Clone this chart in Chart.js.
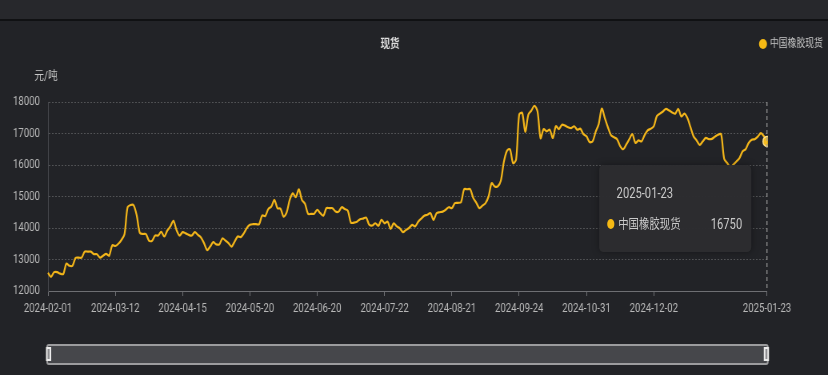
<!DOCTYPE html>
<html>
<head>
<meta charset="utf-8">
<script src="https://cdn.jsdelivr.net/npm/chart.js@4.4.1/dist/chart.umd.min.js"></script>
<style>
  html, body { margin: 0; padding: 0; background: #222327; overflow: hidden; }
  /* the reference is drawn horizontally squeezed, so the whole chart is drawn wider and scaled down */
  #wrap { position: relative; width: 1035px; height: 375px; transform: scaleX(0.8); transform-origin: 0 0; }
  #spot { display: block; }
  #tip { position: absolute; width: 190px; height: 87px; box-sizing: border-box; background: rgba(44,44,47,0.97);
         border-radius: 5px; box-shadow: 0 0 8px rgba(0,0,0,0.35); color: #c9c9c9; opacity: 0;
         font: 14px Roboto, 'Noto Sans CJK SC', sans-serif; pointer-events: none; }
  #tip .t { position: absolute; left: 22px; top: 19px; line-height: 18px; }
  #tip .dot { position: absolute; left: 10px; top: 54px; width: 9px; height: 10px; border-radius: 50%; background: #f5b914; }
  #tip .n { position: absolute; left: 24px; top: 50px; line-height: 18px; font-size: 13px; }
  #tip .v { position: absolute; right: 11px; top: 50px; line-height: 18px; }
</style>
</head>
<body>
<div id="wrap">
  <canvas id="spot" width="1035" height="375"></canvas>
  <div id="tip"></div>
</div>
<script>
let FONT = "Roboto, 'Noto Sans CJK SC', sans-serif"
let SX = 0.8
let seriesName = '中国橡胶现货'
let chartTitle = '现货'
let unitName = '元/吨'

// labels shown under the x axis
let tickDates = ['2024-02-01', '2024-03-12', '2024-04-15', '2024-05-20', '2024-06-20', '2024-07-22',
    '2024-08-21', '2024-09-24', '2024-10-31', '2024-12-02', '2025-01-23']

// exchange closed days (weekdays) in the period
let holidays = ['2024-02-09', '2024-02-12', '2024-02-13', '2024-02-14', '2024-02-15', '2024-02-16',
    '2024-04-04', '2024-04-05', '2024-05-01', '2024-05-02', '2024-05-03', '2024-06-10',
    '2024-09-16', '2024-09-17', '2024-10-01', '2024-10-02', '2024-10-03', '2024-10-04', '2024-10-07',
    '2025-01-01']

// spot price, yuan / ton, one per trading day
let prices = [
    12580, 12450, 12600, 12600, 12550, 12540, 12870, 12800, 12800, 13050,
    13060, 13060, 13250, 13250, 13250, 13170, 13170, 13060, 13120, 13180,
    13120, 13450, 13430, 13500, 13620, 13800, 14650, 14730, 14720, 14400,
    13850, 13810, 13810, 13600, 13590, 13760, 13760, 13880, 13730, 13920,
    14050, 14230, 13940, 13760, 13870, 13830, 13780, 13760, 13870, 13780,
    13700, 13520, 13300, 13410, 13550, 13480, 13480, 13670, 13600, 13520,
    13410, 13570, 13730, 13710, 13830, 14000, 14100, 14120, 14120, 14120,
    14400, 14380, 14600, 14680, 14890, 14630, 14610, 14360, 14490, 14890,
    15100, 14980, 15230, 14890, 14770, 14450, 14450, 14450, 14580, 14470,
    14390, 14630, 14630, 14630, 14520, 14520, 14660, 14600, 14550, 14170,
    14170, 14200, 14280, 14300, 14330, 14100, 14080, 14150, 14070, 14260,
    14150, 14200, 13970, 14150, 14050, 13990, 13870, 13940, 14000, 14100,
    14050, 14200, 14300, 14390, 14420, 14470, 14260, 14470, 14500, 14520,
    14580, 14660, 14630, 14790, 14800, 14820, 15230, 15230, 15230, 14950,
    14800, 14630, 14710, 14790, 15000, 15420, 15320, 15320, 15500, 16100,
    16450, 16500, 16060, 16170, 17600, 17650, 17050, 17600, 17730, 17880,
    17700, 16850, 17140, 17070, 17120, 16860, 17230, 17140, 17280, 17250,
    17200, 17170, 17230, 17120, 17150, 16980, 16910, 16730, 16750, 17050,
    17300, 17790, 17490, 17200, 16950, 16880, 16820, 16600, 16500, 16650,
    16820, 16980, 16700, 16780, 16750, 16950, 17100, 17150, 17230, 17550,
    17630, 17700, 17780, 17730, 17670, 17630, 17780, 17540, 17630, 17490,
    17200, 16910, 16780, 16640, 16750, 16860, 16820, 16830, 16900, 16960,
    16980, 16200, 16060, 15930, 16010, 16110, 16220, 16430, 16500, 16700,
    16800, 16820, 16900, 17010, 16910, 16750
]

// trading days from first to last tick date
let dates = []
let d = new Date(Date.UTC(2024, 1, 1))
let end = new Date(Date.UTC(2025, 0, 23))
while (d <= end) {
    let s = d.toISOString().substring(0, 10)
    let wd = d.getUTCDay()
    if (wd !== 0 && wd !== 6 && !holidays.includes(s)) dates.push(s)
    d.setUTCDate(d.getUTCDate() + 1)
}

let last = prices.length - 1

let deco = {
    id: 'deco',
    beforeDraw(chart) {
        let ctx = chart.ctx
        ctx.save()
        ctx.fillStyle = '#222327'
        ctx.fillRect(0, 0, chart.width, chart.height)
        ctx.fillStyle = '#27282c'
        ctx.fillRect(0, 0, chart.width, 19)
        ctx.fillStyle = '#101113'
        ctx.fillRect(0, 19, chart.width, 2)
        ctx.restore()
    },
    afterDatasetsDraw(chart) {
        let act = chart.tooltip.getActiveElements()
        if (!act.length) return
        let ctx = chart.ctx
        let a = chart.chartArea
        let x = act[0].element.x
        ctx.save()
        ctx.strokeStyle = '#9a9a9a'
        ctx.lineWidth = 1.2
        ctx.setLineDash([4, 3])
        ctx.beginPath()
        ctx.moveTo(x, a.top)
        ctx.lineTo(x, a.bottom)
        ctx.stroke()
        ctx.restore()
    },
    afterDraw(chart) {
        let ctx = chart.ctx
        let a = chart.chartArea
        ctx.save()
        ctx.textBaseline = 'middle'
        // title
        ctx.fillStyle = '#dcdcdc'
        ctx.font = 'bold 12px ' + FONT
        ctx.textAlign = 'center'
        ctx.fillText(chartTitle, 390 / SX, 45)
        // legend
        ctx.fillStyle = '#f5b914'
        ctx.beginPath()
        ctx.arc(763 / SX, 44, 5, 0, Math.PI * 2)
        ctx.fill()
        ctx.fillStyle = '#c8c8c8'
        ctx.font = '11px ' + FONT
        ctx.textAlign = 'left'
        ctx.fillText(seriesName, 770 / SX, 44)
        // axis name
        ctx.font = '12px ' + FONT
        ctx.textAlign = 'center'
        ctx.fillText(unitName, 46 / SX, 77)
        // data zoom bar
        let x0 = a.left - 1, x1 = a.right + 1
        ctx.fillStyle = '#46474b'
        ctx.strokeStyle = '#9c9c9e'
        ctx.lineWidth = 2
        ctx.beginPath()
        ctx.roundRect(x0, 345, x1 - x0, 19, 2)
        ctx.fill()
        ctx.stroke()
        for (let hx of [x0 - 1.5, x1 - 5]) {
            ctx.fillStyle = '#ececec'
            ctx.fillRect(hx, 347, 6.5, 14)
            ctx.fillStyle = '#8d8d90'
            ctx.fillRect(hx + 2, 349, 2.5, 10)
        }
        ctx.restore()
    }
}

let tip = document.getElementById('tip')

let myChart = new Chart(document.getElementById('spot'), {
    type: 'line',
    data: {
        labels: dates,
        datasets: [{
            label: seriesName,
            data: prices,
            borderColor: '#f2b51a',
            borderWidth: 2.2,
            tension: 0.3,
            pointRadius: 0,
            pointHoverRadius: 5,
            pointHoverBackgroundColor: '#f5bd22',
            pointHoverBorderColor: '#ffe08a',
            pointHoverBorderWidth: 1.5
        }]
    },
    options: {
        responsive: false,
        animation: false,
        devicePixelRatio: 1,
        layout: { padding: { top: 102, right: 1035 - 767 / SX, bottom: 0, left: 0 } },
        interaction: { mode: 'index', intersect: false },
        plugins: {
            legend: { display: false },
            title: { display: false },
            tooltip: {
                enabled: false,
                external: (c) => {
                    let tt = c.tooltip
                    if (tt.opacity === 0 || !tt.dataPoints || !tt.dataPoints.length) {
                        tip.style.opacity = 0
                        return
                    }
                    let dp = tt.dataPoints[0]
                    tip.innerHTML = '<div class="t">' + dp.label + '</div><span class="dot"></span>' +
                        '<div class="n">' + dp.dataset.label + '</div><div class="v">' + dp.raw + '</div>'
                    tip.style.left = (tt.caretX - 190 - 20) + 'px'
                    tip.style.top = (tt.caretY + 24) + 'px'
                    tip.style.opacity = 1
                }
            }
        },
        scales: {
            x: {
                type: 'category',
                offset: false,
                afterBuildTicks: (axis) => {
                    axis.ticks = axis.ticks.filter(t => tickDates.includes(dates[t.value]))
                },
                afterFit: (axis) => { axis.height = 84 },
                grid: { drawOnChartArea: false, drawTicks: true, tickLength: 5, color: '#6e6f73' },
                border: { display: true, color: '#6e6f73', width: 1 },
                ticks: {
                    autoSkip: false, maxRotation: 0, padding: 6, color: '#b8b8b8',
                    font: { size: 12, family: FONT },
                    callback: function (v) { return this.getLabelForValue(v) }
                }
            },
            y: {
                min: 12000,
                max: 18000,
                afterFit: (axis) => { axis.width = 48 / SX },
                grid: { color: 'rgba(255,255,255,0.22)', drawTicks: false },
                border: { display: true, color: '#46474c', dash: [2, 2] },
                ticks: {
                    stepSize: 1000, padding: 10, color: '#b8b8b8', font: { size: 12, family: FONT },
                    callback: (v) => String(v)
                }
            }
        }
    },
    plugins: [deco]
})

let pt = myChart.getDatasetMeta(0).data[last]
myChart.setActiveElements([{ datasetIndex: 0, index: last }])
myChart.tooltip.setActiveElements([{ datasetIndex: 0, index: last }], { x: pt.x, y: pt.y })
myChart.update()
</script>
</body>
</html>
